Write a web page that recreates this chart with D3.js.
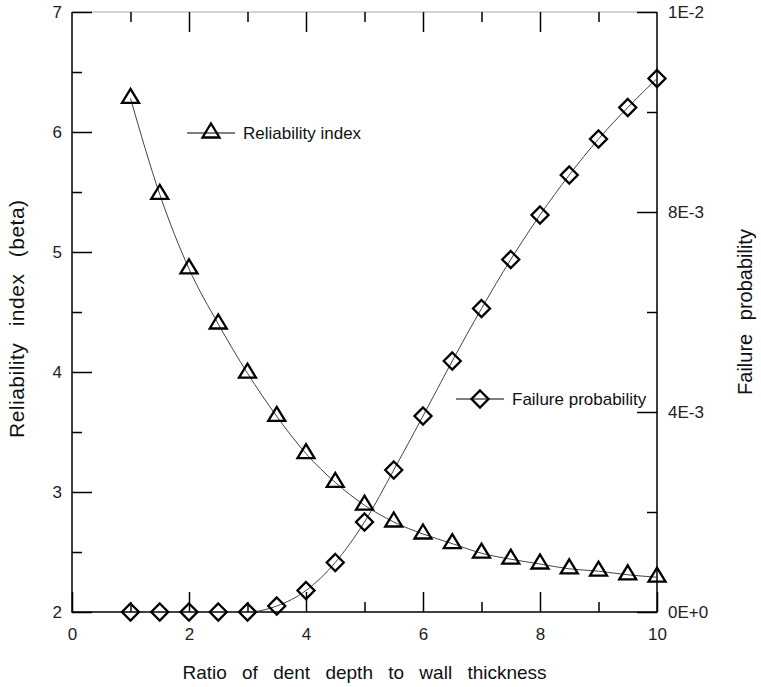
<!DOCTYPE html>
<html>
<head>
<meta charset="utf-8">
<script src="https://cdn.jsdelivr.net/npm/d3@7"></script>
<style>
  body { margin: 0; background: #fff; }
  svg { display: block; font-family: "Liberation Sans", Arial, sans-serif; }
</style>
</head>
<body>
<div id="chart"></div>
<script>
// data
const ratio = [1, 1.5, 2, 2.5, 3, 3.5, 4, 4.5, 5, 5.5, 6, 6.5, 7, 7.5, 8, 8.5, 9, 9.5, 10];
const beta = [6.28, 5.48, 4.86, 4.40, 3.99, 3.63, 3.32, 3.08, 2.89, 2.75, 2.65, 2.57, 2.49, 2.44, 2.40, 2.36, 2.34, 2.31, 2.29];
const failProb = [0, 0, 0, 0, 0, 0.00012, 0.00043, 0.00099, 0.0018, 0.00284, 0.00392, 0.00502, 0.00607, 0.00705, 0.00794, 0.00874, 0.00946, 0.01009, 0.01067];

const xTicks = [0, 2, 4, 6, 8, 10];
const xMinor = [1, 3, 5, 7, 9];
const yTicks = [2, 3, 4, 5, 6, 7];
const yMinor = [2.5, 3.5, 4.5, 5.5, 6.5];
const pTicks = [0, 0.004, 0.008, 0.012];
const pLabels = ['0E+0', '4E-3', '8E-3', '1E-2'];
const pMinor = [0.002, 0.006, 0.010];

const W = 761, H = 687;
const m = { left: 72, right: 104, top: 12, bottom: 75 };

const svg = d3.select('#chart').append('svg')
  .attr('width', W)
  .attr('height', H);

const x = d3.scaleLinear().domain([0, 10]).range([m.left, W - m.right]);
const yL = d3.scaleLinear().domain([2, 7]).range([H - m.bottom, m.top]);
const yR = d3.scaleLinear().domain([0, 0.012]).range([H - m.bottom, m.top]);

const x0 = x(0), x1 = x(10), y0 = yL(2), y1 = yL(7);

// frame: top edge is lighter in the original
svg.append('line').attr('x1', x0).attr('x2', x1).attr('y1', y1).attr('y2', y1)
  .attr('stroke', '#aaa').attr('stroke-width', 1.2);
svg.append('path')
  .attr('d', `M${x0},${y1}V${y0}H${x1}V${y1}`)
  .attr('fill', 'none').attr('stroke', '#000').attr('stroke-width', 1.5);

function styleAxis(g) {
  g.select('.domain').remove();
  g.selectAll('.tick line').attr('stroke', '#000').attr('stroke-width', 1.5);
  g.selectAll('.tick text').attr('font-size', 17).attr('fill', '#222')
    .attr('font-family', '"Liberation Sans", Arial, sans-serif');
}

// bottom
svg.append('g').attr('transform', `translate(0,${y0})`)
  .call(d3.axisBottom(x).tickValues(xTicks).tickSize(-20).tickPadding(16).tickFormat(d3.format('d')))
  .call(styleAxis);
svg.append('g').attr('transform', `translate(0,${y0})`)
  .call(d3.axisBottom(x).tickValues(xMinor).tickSize(-10).tickFormat(''))
  .call(styleAxis);
// top
svg.append('g').attr('transform', `translate(0,${y1})`)
  .call(d3.axisTop(x).tickValues(xTicks.slice(1, -1)).tickSize(-20).tickFormat(''))
  .call(styleAxis);
svg.append('g').attr('transform', `translate(0,${y1})`)
  .call(d3.axisTop(x).tickValues(xMinor).tickSize(-10).tickFormat(''))
  .call(styleAxis);
// left
svg.append('g').attr('transform', `translate(${x0},0)`)
  .call(d3.axisLeft(yL).tickValues(yTicks).tickSize(-20).tickPadding(10).tickFormat(d3.format('d')))
  .call(styleAxis);
svg.append('g').attr('transform', `translate(${x0},0)`)
  .call(d3.axisLeft(yL).tickValues(yMinor).tickSize(-10).tickFormat(''))
  .call(styleAxis);
// right
svg.append('g').attr('transform', `translate(${x1},0)`)
  .call(d3.axisRight(yR).tickValues(pTicks).tickSize(-20).tickPadding(11).tickFormat((d, i) => pLabels[i]))
  .call(styleAxis);
svg.append('g').attr('transform', `translate(${x1},0)`)
  .call(d3.axisRight(yR).tickValues(pMinor).tickSize(-10).tickFormat(''))
  .call(styleAxis);

// axis titles
svg.append('text')
  .attr('transform', 'translate(24,438) rotate(-90)')
  .attr('text-anchor', 'start')
  .attr('font-size', 21).attr('fill', '#111')
  .attr('letter-spacing', 0.5)
  .attr('word-spacing', 10)
  .text('Reliability index (beta)');
svg.append('text')
  .attr('transform', `translate(752,${(y0 + y1) / 2}) rotate(-90)`)
  .attr('text-anchor', 'middle')
  .attr('font-size', 20).attr('fill', '#111')
  .attr('word-spacing', 8)
  .text('Failure probability');
svg.append('text')
  .attr('x', (x0 + x1) / 2).attr('y', 679)
  .attr('text-anchor', 'middle')
  .attr('font-size', 19).attr('fill', '#111')
  .attr('word-spacing', 10)
  .text('Ratio of dent depth to wall thickness');

// markers
const triPath = 'M0,-9.5L8.5,4.5L-8.5,4.5Z';
const diaPath = 'M0,-8.5L8.5,0L0,8.5L-8.5,0Z';

const betaPts = ratio.map((r, i) => [x(r), yL(beta[i])]);
const probPts = ratio.map((r, i) => [x(r), yR(failProb[i])]);

const line = d3.line().curve(d3.curveMonotoneX);

svg.append('path').attr('d', line(betaPts))
  .attr('fill', 'none').attr('stroke', '#444').attr('stroke-width', 1);
svg.append('path').attr('d', line(probPts))
  .attr('fill', 'none').attr('stroke', '#444').attr('stroke-width', 1);

svg.append('g').selectAll('path')
  .data(betaPts)
  .join('path')
  .attr('transform', d => `translate(${d[0]},${d[1]})`)
  .attr('d', triPath)
  .attr('fill', 'none').attr('stroke', '#000').attr('stroke-width', 2.3);

svg.append('g').selectAll('path')
  .data(probPts)
  .join('path')
  .attr('transform', d => `translate(${d[0]},${d[1]})`)
  .attr('d', diaPath)
  .attr('fill', 'none').attr('stroke', '#000').attr('stroke-width', 2.3);

// legend
const legend = [
  { label: 'Reliability index', shape: triPath, x: 187, y: 133 },
  { label: 'Failure probability', shape: diaPath, x: 456, y: 399 }
];
legend.forEach(l => {
  const g = svg.append('g').attr('transform', `translate(${l.x},${l.y})`);
  g.append('line').attr('x1', 0).attr('x2', 48).attr('stroke', '#000').attr('stroke-width', 1.2);
  g.append('path').attr('transform', 'translate(24,0)').attr('d', l.shape)
    .attr('fill', 'none').attr('stroke', '#000').attr('stroke-width', 2.3);
  g.append('text').attr('x', 56).attr('y', 6)
    .attr('font-size', 17).attr('fill', '#111')
    .text(l.label);
});
</script>
</body>
</html>
